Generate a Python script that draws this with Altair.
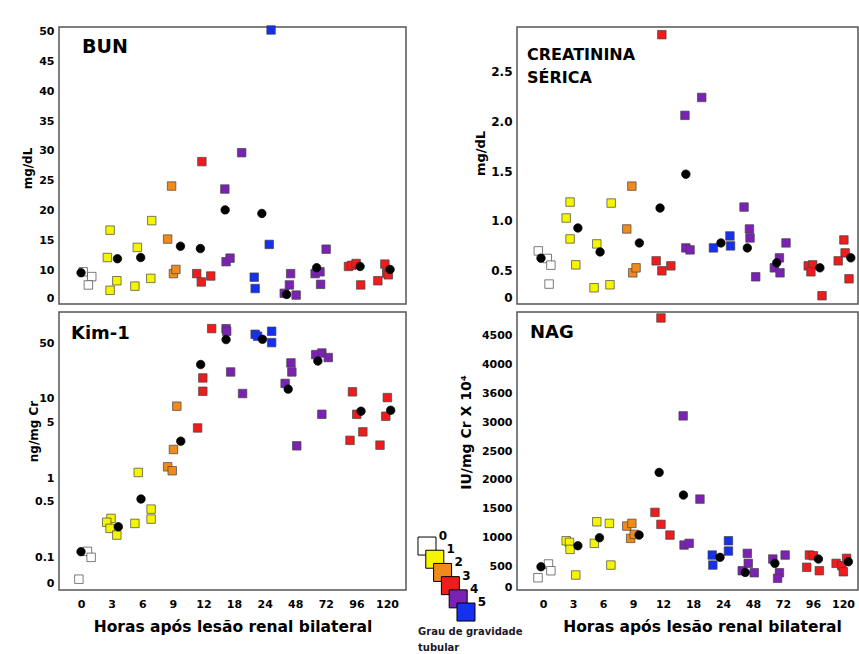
import altair as alt
import pandas as pd

# ---------------- data ----------------
HOURS = ["0", "3", "6", "9", "12", "18", "24", "48", "72", "96", "120"]
HOUR_GRADE = [0, 1, 1, 2, 3, 4, 5, 4, 4, 3, 3]
GRADES = [0, 1, 2, 3, 4, 5]
GRADE_COLORS = ["#ffffff", "#f5f500", "#f08a1c", "#ee1c1c", "#7b22b4", "#1530ee"]

# BUN (mg/dL)
BUN_VALUES = [[9.7, 8.9, 7.5], [16.7, 12.1, 8.2, 6.6], [13.8, 7.3, 18.3, 8.6],
              [24.1, 15.2, 9.4, 10.1], [28.2, 9.4, 8.0, 9.0], [23.6, 11.4, 12.0, 29.7],
              [50.3, 14.3, 8.8, 6.9], [9.4, 7.5, 6.1, 5.8], [13.5, 9.4, 9.7, 7.6],
              [10.6, 10.8, 11.1, 7.5], [11.0, 9.5, 9.2, 8.2]]
BUN_JITTER = [[0.07, 0.35, 0.24], [-0.05, -0.14, 0.17, -0.05], [-0.16, -0.24, 0.31, 0.28],
              [-0.04, -0.17, 0.02, 0.10], [-0.05, -0.22, -0.07, 0.24], [-0.30, -0.26, -0.13, 0.25],
              [0.21, 0.15, -0.34, -0.31], [-0.15, -0.19, -0.36, 0.03], [0.01, -0.35, -0.19, -0.17],
              [-0.26, -0.15, -0.01, 0.14], [-0.07, -0.01, 0.04, -0.30]]
BUN_MEANS = [9.55, 11.9, 12.1, 14.0, 13.6, 20.1, 19.5, 5.9, 10.4, 10.6, 10.1]
BUN_MEAN_JITTER = [0.0, 0.19, -0.05, 0.25, -0.10, -0.29, -0.09, -0.28, -0.30, 0.12, 0.10]

# Kim-1 (ng/mg Cr)
KIM_VALUES = [[0.119, 0.10, 0.053], [0.31, 0.277, 0.232, 0.191], [1.18, 0.268, 0.406, 0.304],
              [8.1, 2.3, 1.39, 1.24], [4.3, 12.5, 18.4, 77.3], [77.0, 71.5, 21.9, 11.7],
              [65.5, 62.0, 71.5, 51.4], [28.5, 21.9, 15.7, 2.56], [36.3, 38.0, 33.3, 6.4],
              [12.3, 6.4, 3.84, 3.0], [10.4, 6.05, 2.61]]
KIM_JITTER = [[0.21, 0.33, -0.07], [-0.02, -0.16, -0.05, 0.17], [-0.13, -0.24, 0.29, 0.29],
              [0.13, 0.02, -0.17, -0.02], [-0.19, -0.02, -0.02, 0.27], [-0.26, -0.24, -0.11, 0.28],
              [-0.31, -0.23, 0.23, 0.23], [-0.14, -0.11, -0.33, 0.05], [-0.33, -0.13, 0.08, -0.13],
              [-0.13, 0.01, 0.21, -0.21], [0.01, -0.04, -0.23]]
KIM_MEANS = [0.118, 0.243, 0.545, 2.93, 27.2, 56.1, 56.6, 13.3, 30.1, 7.0, 7.2]
KIM_MEAN_JITTER = [0.0, 0.22, -0.04, 0.26, -0.09, -0.26, -0.07, -0.23, -0.26, 0.15, 0.12]

# Creatinina sérica (mg/dL)
CREAT_VALUES = [[0.70, 0.624, 0.557, 0.367], [1.19, 1.03, 0.82, 0.56], [0.77, 0.33, 1.18, 0.36],
                [1.35, 0.92, 0.48, 0.53], [2.87, 0.60, 0.50, 0.55], [2.06, 2.24, 0.73, 0.71],
                [0.73, 0.85, 0.75], [1.14, 0.92, 0.83, 0.44], [0.63, 0.53, 0.48, 0.78],
                [0.55, 0.56, 0.49, 0.25], [0.81, 0.68, 0.60, 0.42]]
CREAT_JITTER = [[-0.16, 0.14, 0.26, 0.20], [-0.10, -0.23, -0.10, 0.09], [-0.21, -0.30, 0.27, 0.23],
                [-0.04, -0.21, -0.01, 0.10], [-0.04, -0.23, -0.04, 0.26], [-0.27, 0.29, -0.24, -0.10],
                [-0.32, 0.23, 0.25], [-0.30, -0.12, -0.10, 0.09], [-0.12, -0.29, -0.10, 0.10],
                [-0.16, -0.01, -0.07, 0.30], [0.03, 0.07, -0.16, 0.20]]
CREAT_MEANS = [0.627, 0.93, 0.69, 0.78, 1.13, 1.47, 0.78, 0.73, 0.58, 0.53, 0.63]
CREAT_MEAN_JITTER = [-0.07, 0.16, -0.10, 0.21, -0.10, -0.24, -0.07, -0.19, -0.21, 0.23, 0.26]

# NAG (IU/mg Cr x 10^4)
NAG_VALUES = [[310, 547, 431], [949, 921, 800, 357], [1277, 904, 1249, 529],
              [1203, 1249, 990, 1059], [4799, 1439, 1232, 1047], [3107, 1669, 875, 904],
              [702, 529, 949, 771], [731, 558, 431, 396], [633, 702, 396, 300],
              [702, 690, 490, 431], [558, 517, 413, 645]]
NAG_JITTER = [[-0.17, 0.18, 0.26], [-0.23, -0.12, -0.10, 0.09], [-0.21, -0.29, 0.21, 0.26],
              [-0.21, -0.04, -0.08, 0.04], [-0.07, -0.27, -0.07, 0.23], [-0.33, 0.23, -0.30, -0.13],
              [-0.36, -0.34, 0.18, 0.18], [-0.19, -0.16, -0.36, 0.04], [-0.34, 0.07, -0.12, -0.18],
              [-0.12, 0.01, -0.21, 0.21], [-0.23, -0.04, 0.01, 0.12]]
NAG_MEANS = [500, 863, 1000, 1047, 2130, 1738, 662, 402, 558, 633, 586]
NAG_MEAN_JITTER = [-0.07, 0.16, -0.12, 0.20, -0.13, -0.32, -0.10, -0.26, -0.27, 0.18, 0.18]

FONT = "DejaVu Sans"
X_TITLE = "Horas após lesão renal bilateral"

KIND_DOMAIN = [str(g) for g in GRADES] + ["média"]
fill_scale = alt.Scale(domain=KIND_DOMAIN, range=GRADE_COLORS + ["#000000"])
shape_scale = alt.Scale(domain=KIND_DOMAIN, range=["square"] * 6 + ["circle"])
size_scale = alt.Scale(domain=KIND_DOMAIN, range=[72] * 6 + [55])
stroke_scale = alt.Scale(domain=KIND_DOMAIN, range=["#444444"] * 6 + ["#000000"])
hour_expr = "[" + ",".join("'%s'" % h for h in HOURS) + "][datum.value]"


def panel_df(values, jitter, means, mjit):
    rows = []
    for i, (vals, js) in enumerate(zip(values, jitter)):
        for v, j in zip(vals, js):
            rows.append({"hour": HOURS[i], "xpos": i + j, "value": v, "kind": str(HOUR_GRADE[i])})
    for i, (m, j) in enumerate(zip(means, mjit)):
        rows.append({"hour": HOURS[i], "xpos": i + j, "value": m, "kind": "média"})
    return pd.DataFrame(rows)


def x_axis(title_x=None):
    kw = dict(values=list(range(len(HOURS))), labelExpr=hour_expr, title=X_TITLE,
              grid=False, ticks=False, domain=False, labelPadding=8, labelOverlap=False,
              labelFontSize=11, labelFontWeight="bold", labelFont=FONT,
              titleFontSize=15.5, titleFontWeight="bold", titleFont=FONT, titlePadding=10)
    if title_x is not None:
        kw["titleX"] = title_x
        kw["titleAlign"] = "center"
    return alt.Axis(**kw)


def y_axis(title, values, expr, title_size, title_x, title_y, label_size=11):
    return alt.Axis(values=values, labelExpr=expr, title=title, grid=False, ticks=False,
                    domain=False, labelPadding=5, labelOverlap=False,
                    labelFontSize=label_size, labelFontWeight="bold", labelFont=FONT,
                    titleFontSize=title_size, titleFontWeight="bold", titleFont=FONT,
                    titleX=title_x, titleY=title_y)


def panel(values, jitter, means, mjit, yscale, yaxis, xdom, w, h, xaxis, title):
    df = panel_df(values, jitter, means, mjit)
    return alt.Chart(df).mark_point(filled=True, opacity=1, strokeWidth=0.7).encode(
        x=alt.X("xpos:Q", scale=alt.Scale(domain=xdom, nice=False, zero=False), axis=xaxis),
        y=alt.Y("value:Q", scale=yscale, axis=yaxis),
        fill=alt.Fill("kind:N", scale=fill_scale, legend=None),
        stroke=alt.Stroke("kind:N", scale=stroke_scale, legend=None),
        shape=alt.Shape("kind:N", scale=shape_scale, legend=None),
        size=alt.Size("kind:N", scale=size_scale, legend=None),
    ).properties(width=w, height=h, title=title)


def ptitle(text, size, dx, offset, line_height=None):
    kw = dict(text=text, anchor="start", frame="group", orient="top", dx=dx, offset=offset,
              fontSize=size, fontWeight="bold", font=FONT, color="black")
    if line_height:
        kw["lineHeight"] = line_height
    return alt.TitleParams(**kw)


LEFT_XDOM = [-0.72, 10.62]
RIGHT_XDOM = [-0.87, 10.5]
LW, MW, RW = 347, 101, 341
TH, BH = 277, 278

bun = panel(BUN_VALUES, BUN_JITTER, BUN_MEANS, BUN_MEAN_JITTER,
            alt.Scale(domain=[4.3, 50.8], nice=False, zero=False),
            y_axis("mg/dL", [5.3, 10, 15, 20, 25, 30, 35, 40, 45, 50],
                   "datum.value < 6 ? '0' : format(datum.value, 'd')", 12, -25, 141),
            LEFT_XDOM, LW, TH, None, ptitle("BUN", 19, 23, -33))

kim = panel(KIM_VALUES, KIM_JITTER, KIM_MEANS, KIM_MEAN_JITTER,
            alt.Scale(type="log", domain=[0.0387, 125.2], nice=False),
            y_axis("ng/mg Cr", [0.047, 0.1, 0.5, 1, 5, 10, 50],
                   "datum.value < 0.06 ? '0' : format(datum.value, '~g')", 12, -19, 119),
            LEFT_XDOM, LW, BH, x_axis(), ptitle("Kim-1", 18, 12, -31))

creat = panel(CREAT_VALUES, CREAT_JITTER, CREAT_MEANS, CREAT_MEAN_JITTER,
              alt.Scale(domain=[0.167, 2.947], nice=False, zero=False),
              y_axis("mg/dL", [0.233, 0.5, 1.0, 1.5, 2.0, 2.5],
                     "datum.value < 0.3 ? '0' : format(datum.value, '.1f')", 13, -30, 126, 12),
              RIGHT_XDOM, RW, TH, None,
              ptitle(["CREATININA", "SÉRICA"], 16, 10, -59, 23))

nag = panel(NAG_VALUES, NAG_JITTER, NAG_MEANS, NAG_MEAN_JITTER,
            alt.Scale(domain=[98, 4902], nice=False, zero=False),
            y_axis("IU/mg Cr X 10⁴", [144, 500, 1000, 1500, 2000, 2500, 3000, 3500, 4000, 4500],
                   "datum.value < 200 ? '0' : (datum.value == 3500 ? '3600' : format(datum.value, 'd'))",
                   14, -44, 120),
            RIGHT_XDOM, RW, BH, x_axis(title_x=185), ptitle("NAG", 18, 13, -30))

# ---------------- legend (grade of tubular injury) ----------------
leg_df = pd.DataFrame({"grade": GRADES, "kind": [str(g) for g in GRADES],
                       "label": [str(g) for g in GRADES]})
lx = alt.X("grade:Q", scale=alt.Scale(domain=[-2.05, 10.9], nice=False, zero=False), axis=None)
ly = alt.Y("grade:Q", scale=alt.Scale(domain=[-17.73, 3.33], nice=False, zero=False, reverse=True),
           axis=None)
leg_sq = alt.Chart(leg_df).mark_square(size=324, opacity=1, stroke="black", strokeWidth=1).encode(
    x=lx, y=ly, fill=alt.Fill("kind:N", scale=fill_scale, legend=None))
leg_tx = alt.Chart(leg_df).mark_text(dx=16, dy=-10, fontSize=12, fontWeight="bold", font=FONT,
                                     color="black").encode(x=lx, y=ly, text="label:N")
legend = alt.layer(leg_sq, leg_tx).properties(
    width=MW, height=BH,
    view=alt.ViewBackground(stroke="transparent"),
    title=alt.TitleParams(["Grau de gravidade", "tubular"], orient="bottom", anchor="start",
                          frame="group", dx=7, offset=4, fontSize=10, fontWeight="bold",
                          font=FONT, color="#1a1a2a", lineHeight=16))

# empty cell above the legend
spacer = alt.Chart(leg_df).mark_point(opacity=0).encode(
    x=alt.X("grade:Q", axis=None), y=alt.Y("grade:Q", axis=None)
).properties(width=MW, height=TH, view=alt.ViewBackground(stroke="transparent"))

chart = alt.concat(bun, spacer, creat, kim, legend, nag, columns=3, align="each",
                   bounds="flush", spacing={"row": 8, "column": 5}).properties(
    padding={"left": 20, "top": 23, "right": 0, "bottom": 2},
    background="white",
).configure_view(stroke="#555", strokeWidth=1.5).configure_axis(labelOverlap=False)

chart.save("out.html", embed_options={"renderer": "svg", "actions": False})
